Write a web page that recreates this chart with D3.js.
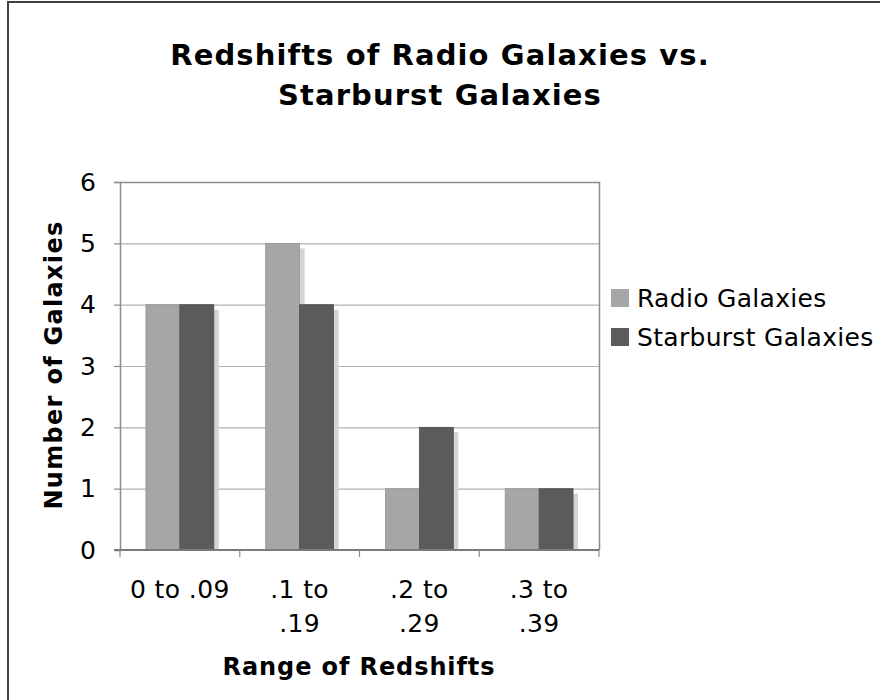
<!DOCTYPE html>
<html>
<head>
<meta charset="utf-8">
<script src="https://cdn.jsdelivr.net/npm/d3@7/dist/d3.min.js"></script>
<style>
  html, body { margin: 0; padding: 0; background: #fff; }
  svg { display: block; font-family: "DejaVu Sans", Verdana, sans-serif; }
</style>
</head>
<body>
<svg id="chart" width="880" height="700"></svg>
<script>
// Redshift bins and galaxy counts per bin
const categories = ["0 to .09", ".1 to .19", ".2 to .29", ".3 to .39"];
const categoryLines = [["0 to .09"], [".1 to", ".19"], [".2 to", ".29"], [".3 to", ".39"]];
const seriesNames = ["Radio Galaxies", "Starburst Galaxies"];
const radioValues = [4, 5, 1, 1];
const starburstValues = [4, 4, 2, 1];
const yTicks = [0, 1, 2, 3, 4, 5, 6];

const colors = { "Radio Galaxies": "#a6a6a6", "Starburst Galaxies": "#5b5b5b" };
const FONT = "DejaVu Sans, Verdana, sans-serif";

const svg = d3.select("#chart");

// outer chart border (left and top edges)
svg.append("line").attr("x1", 8).attr("y1", 1).attr("x2", 8).attr("y2", 700)
  .attr("stroke", "#404040").attr("stroke-width", 2);
svg.append("line").attr("x1", 7).attr("y1", 2).attr("x2", 880).attr("y2", 2)
  .attr("stroke", "#404040").attr("stroke-width", 2);

const plot = { left: 120, right: 599, top: 182, bottom: 550 };

const x = d3.scaleBand().domain(categories).range([plot.left, plot.right]).paddingInner(0.433).paddingOuter(0.2165);
const xs = d3.scaleBand().domain(seriesNames).range([0, x.bandwidth()]);
const y = d3.scaleLinear().domain([0, 6]).range([plot.bottom, plot.top]);

const data = categories.map((c, i) => ({
  cat: c,
  values: [
    { series: seriesNames[0], value: radioValues[i] },
    { series: seriesNames[1], value: starburstValues[i] }
  ]
}));

// gridlines
svg.append("g").selectAll("line").data(yTicks.filter(t => t > 0 && t < 6)).join("line")
  .attr("x1", plot.left).attr("x2", plot.right)
  .attr("y1", d => y(d) + 0.5).attr("y2", d => y(d) + 0.5)
  .attr("stroke", "#b3b3b3").attr("stroke-width", 1.2);

// plot frame (top and right)
svg.append("path")
  .attr("d", `M${plot.left},${plot.top + 0.5}H${plot.right + 0.5}V${plot.bottom}`)
  .attr("fill", "none").attr("stroke", "#8c8c8c").attr("stroke-width", 1.5);

// bar shadows
const groups = svg.append("g").selectAll("g").data(data).join("g")
  .attr("transform", d => `translate(${x(d.cat)},0)`);
groups.selectAll("rect.shadow").data(d => d.values).join("rect")
  .attr("class", "shadow")
  .attr("x", d => xs(d.series) + 5)
  .attr("y", d => y(d.value) + 5)
  .attr("width", xs.bandwidth())
  .attr("height", d => plot.bottom - y(d.value) - 5)
  .attr("fill", "#d4d4d4");

// bars
groups.selectAll("rect.bar").data(d => d.values).join("rect")
  .attr("class", "bar")
  .attr("x", d => xs(d.series))
  .attr("y", d => y(d.value))
  .attr("width", xs.bandwidth())
  .attr("height", d => plot.bottom - y(d.value))
  .attr("fill", d => colors[d.series])
  .attr("stroke", d => d3.color(colors[d.series]).darker(0.3))
  .attr("stroke-width", 0.8);

// y axis
const yAxis = d3.axisLeft(y).tickValues(yTicks).tickSize(6).tickPadding(18).tickFormat(d3.format("d"));
const yg = svg.append("g").attr("transform", `translate(${plot.left},0)`).call(yAxis);
yg.select(".domain").attr("stroke", "#8c8c8c").attr("stroke-width", 1.5);
yg.selectAll(".tick line").attr("stroke", "#8c8c8c").attr("stroke-width", 1.2);
yg.selectAll(".tick text").attr("font-size", 25).attr("font-family", FONT).attr("fill", "#000");

// x axis: ticks at band boundaries
const boundaries = d3.range(categories.length + 1).map(i => plot.left + i * (plot.right - plot.left) / categories.length);
svg.append("line").attr("x1", plot.left - 6).attr("x2", plot.right).attr("y1", plot.bottom).attr("y2", plot.bottom)
  .attr("stroke", "#7a7a7a").attr("stroke-width", 1.8);
svg.append("g").selectAll("line").data(boundaries).join("line")
  .attr("x1", d => d).attr("x2", d => d).attr("y1", plot.bottom).attr("y2", plot.bottom + 7)
  .attr("stroke", "#8c8c8c").attr("stroke-width", 1.2);

// category labels (wrapped)
const labels = svg.append("g").selectAll("text").data(categories).join("text")
  .attr("x", d => x(d) + x.bandwidth() / 2)
  .attr("y", 598)
  .attr("text-anchor", "middle")
  .attr("font-size", 25)
  .attr("letter-spacing", 0.4)
  .attr("fill", "#000");
labels.each(function(d, i) {
  const t = d3.select(this);
  categoryLines[i].forEach((line, j) => {
    t.append("tspan").attr("x", x(d) + x.bandwidth() / 2).attr("dy", j === 0 ? 0 : 34).text(line);
  });
});

// axis titles
svg.append("text").attr("x", 359).attr("y", 675).attr("text-anchor", "middle")
  .attr("font-size", 24).attr("font-weight", "bold").attr("letter-spacing", 0.9).text("Range of Redshifts");
svg.append("text").attr("transform", "translate(62,365) rotate(-90)").attr("text-anchor", "middle")
  .attr("font-size", 24).attr("font-weight", "bold").attr("letter-spacing", 1.3).text("Number of Galaxies");

// chart title
const title = svg.append("text").attr("text-anchor", "middle").attr("font-size", 29)
  .attr("font-weight", "bold").attr("letter-spacing", 1.1);
title.append("tspan").attr("x", 440).attr("y", 65).text("Redshifts of Radio Galaxies vs.");
title.append("tspan").attr("x", 440).attr("y", 105).text("Starburst Galaxies");

// legend
const legend = svg.append("g").selectAll("g").data(seriesNames).join("g")
  .attr("transform", (d, i) => `translate(611,${289 + i * 39})`);
legend.append("rect").attr("width", 18).attr("height", 18).attr("fill", d => colors[d]);
legend.append("text").attr("x", 26).attr("y", 18).attr("font-size", 25).attr("letter-spacing", 0.3)
  .attr("fill", "#000").text(d => d);
</script>
</body>
</html>
